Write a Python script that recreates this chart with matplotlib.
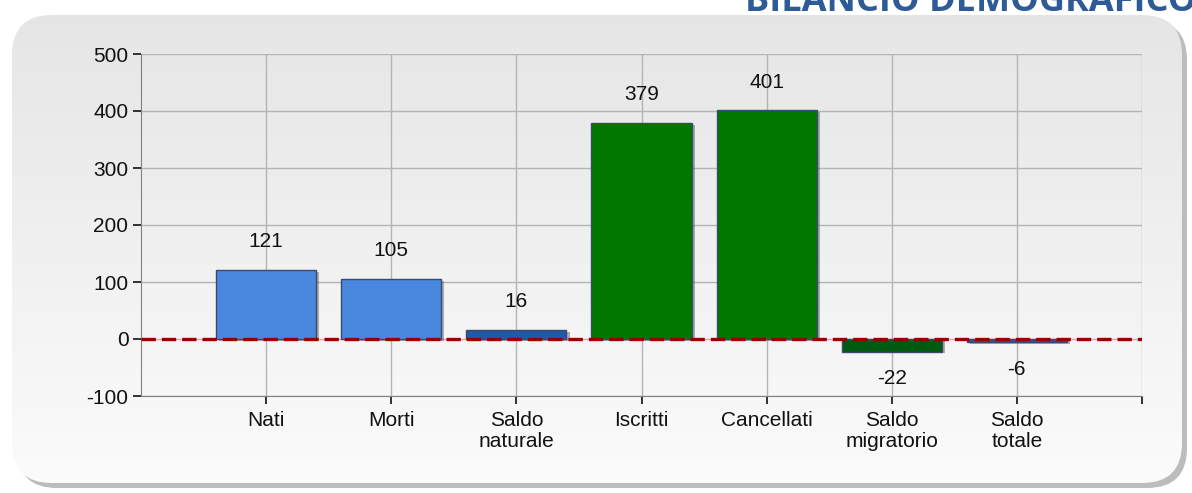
"""Bilancio demografico bar chart."""
import matplotlib

matplotlib.use("Agg")
import matplotlib.pyplot as plt
import numpy as np
from matplotlib.patches import FancyBboxPatch

categories = ["Nati", "Morti", "Saldo\nnaturale", "Iscritti", "Cancellati",
              "Saldo\nmigratorio", "Saldo\ntotale"]
values = [121, 105, 16, 379, 401, -22, -6]
colors = ["#4a88e0", "#4a88e0", "#1f5aa8", "#007800", "#007800", "#005a10", "#34508a"]
y_ticks = [-100, 0, 100, 200, 300, 400, 500]
title = "BILANCIO DEMOGRAFICO"

plt.rcParams["font.family"] = ["Liberation Sans", "DejaVu Sans"]

W, H = 1192, 493
fig = plt.figure(figsize=(W / 100, H / 100), dpi=100)
fig.patch.set_facecolor("white")

# panel background with shadow and gradient
bg = fig.add_axes([0, 0, 1, 1], zorder=0)
bg.set_xlim(0, W)
bg.set_ylim(H, 0)
bg.axis("off")
shadow = FancyBboxPatch((17, 20), 1170, 468, boxstyle="round,pad=0,rounding_size=40",
                        fc="#a0a0a0", ec="none", alpha=0.7)
bg.add_patch(shadow)
panel = FancyBboxPatch((12, 15), 1170, 468, boxstyle="round,pad=0,rounding_size=40",
                       fc="none", ec="none")
bg.add_patch(panel)
grad = np.linspace(0.90, 0.985, 256).reshape(-1, 1)
im = bg.imshow(np.dstack([grad, grad, grad]), extent=(12, 1182, 483, 15),
               aspect="auto", zorder=1)
im.set_clip_path(panel)

# title is cut by the top edge, as in the source page
fig.text(745 / W, 1 - 11 / H, title, color="#2e5a96", fontsize=26, fontweight="bold",
         ha="left", va="baseline", family=["Open Sans", "DejaVu Sans"])

ax = fig.add_axes([141 / W, 1 - 396 / H, (1142 - 141) / W, (396 - 54) / H], zorder=2)
ax.patch.set_alpha(0)
x = np.arange(1, len(categories) + 1)

# shadows behind bars
ax.bar(x + 0.025, values, width=0.8, color="#555555", alpha=0.45, zorder=2,
       bottom=-3)
ax.bar(x, values, width=0.8, color=colors, edgecolor="#3a4a6a", linewidth=1, zorder=3)
ax.axhline(0, color="#990000", linestyle=(0, (4.3, 1.8)), linewidth=2.4, zorder=4)

for xi, v in zip(x, values):
    if v >= 0:
        ax.text(xi, v + 33, str(v), ha="center", va="bottom", fontsize=15, color="#111111")
    else:
        ax.text(xi, v - 30, str(v), ha="center", va="top", fontsize=15, color="#111111")

ax.set_xlim(0, 8)
ax.set_ylim(-100, 500)
ax.set_yticks(y_ticks)
ax.set_yticklabels([str(t) for t in y_ticks], fontsize=15)
ax.set_xticks(list(x) + [8])
ax.set_xticklabels(categories + [""], fontsize=15, linespacing=1.1)
ax.grid(True, color="#b4b4b4", linewidth=1, zorder=0)
ax.set_axisbelow(True)
for side in ["top", "right"]:
    ax.spines[side].set_visible(False)
for side in ["left", "bottom"]:
    ax.spines[side].set_color("#808080")
ax.tick_params(axis="both", direction="out", length=6, width=1.2, color="#111111",
               labelcolor="#111111")
ax.tick_params(axis="x", pad=5)
ax.tick_params(axis="y", pad=3)

fig.savefig("out.png", dpi=100)
